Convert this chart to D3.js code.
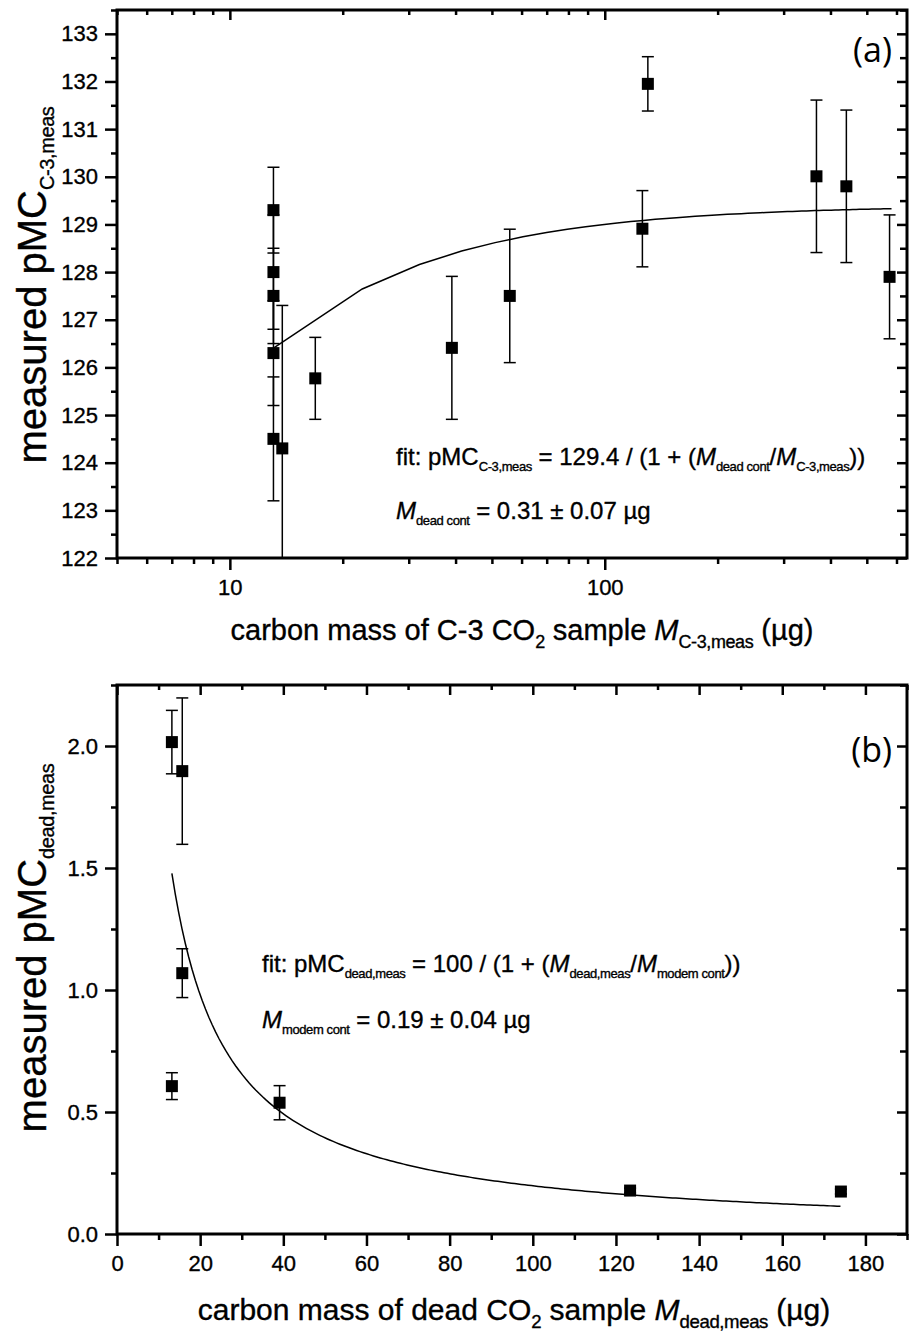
<!DOCTYPE html>
<html>
<head>
<meta charset="utf-8">
<script src="https://cdn.jsdelivr.net/npm/d3@7"></script>
<style>
  body { margin: 0; background: #fff; }
  svg text { font-family: "Liberation Sans", Arial, sans-serif; fill: #000; white-space: pre; stroke: #000; stroke-width: 0.35px; }
</style>
</head>
<body>
<div id="app"></div>
<script>
// ---- panel (a): C-3 CO2 samples ----
const massC3 = [13.07, 13.07, 13.07, 13.07, 13.07, 13.8, 16.9, 39.1, 55.8, 126, 130.3, 367, 441, 575];
const pmcC3  = [129.3, 128.0, 127.5, 126.3, 124.5, 124.3, 125.77, 126.41, 127.5, 128.91, 131.95, 130.01, 129.8, 127.9];
const errC3  = [0.9, 1.2, 1.0, 1.1, 1.3, 3.0, 0.86, 1.5, 1.4, 0.8, 0.57, 1.6, 1.6, 1.3];
// fit: pMC = 129.4 / (1 + Mdead/M)
const fitA = { pmc0: 129.4, mCont: 0.31, from: 13.07, to: 582, n: 61 };

// ---- panel (b): dead CO2 samples ----
const massDead = [13.2, 15.7, 15.7, 13.2, 39.1, 123.4, 174.1];
const pmcDead  = [2.016, 1.897, 1.069, 0.606, 0.538, 0.178, 0.174];
const errDead  = [0.13, 0.3, 0.1, 0.055, 0.07, 0.01, 0.01];
// fit: pMC = 100 / (1 + M/Mmodern)
const fitB = { pmc0: 100, mCont: 0.198, from: 13.2, to: 174, n: 200 };

// tick values
const ticksA_xMajor = [10, 100];
const ticksA_xMinor = [5, 6, 7, 8, 9, 20, 30, 40, 50, 60, 70, 80, 90, 200, 300, 400, 500, 600];
const ticksA_yMajor = d3.range(122, 133.01, 1);
const ticksA_yMinor = d3.range(122.5, 133.51, 1);
const ticksB_xMajor = d3.range(0, 181, 20);
const ticksB_xMinor = d3.range(10, 191, 20);
const ticksB_yMajor = [0, 0.5, 1.0, 1.5, 2.0];
const ticksB_yMinor = [0.25, 0.75, 1.25, 1.75, 2.25];

const W = 909, H = 1338;
let svg = d3.select("#app").append("svg")
    .attr("width", W)
    .attr("height", H);

// helper: text with sub/italic pieces
function richText(sel, parts, size, subSize, subShift) {
    let shift = 0;
    parts.forEach(([t, k]) => {
        let sub = k.includes("s");
        let target = sub ? subShift : 0;
        sel.append("tspan")
            .attr("dy", target - shift)
            .attr("font-size", sub ? subSize : size)
            .attr("font-style", k.includes("i") ? "italic" : null)
            .attr("letter-spacing", sub ? -0.4 : null)
            .text(t);
        shift = target;
    });
}

function styleAxis(g) {
    g.select(".domain").remove();
    g.selectAll(".tick line").attr("stroke", "#000").attr("stroke-width", 2.5);
    g.selectAll(".tick text").attr("font-size", 22).attr("fill", "#000")
        .attr("font-family", "Liberation Sans, Arial, sans-serif");
}

function panel(cfg) {
    let x = cfg.x, y = cfg.y;
    let [x0, x1] = x.range(), [y1, y0] = y.range();
    let g = svg.append("g");

    // clip for marks
    g.append("clipPath").attr("id", cfg.id + "clip")
        .append("rect").attr("x", x0).attr("y", y0).attr("width", x1 - x0).attr("height", y1 - y0);

    // axes: bottom / left outward with labels, top / right inward
    g.append("g").attr("transform", `translate(0,${y1})`)
        .call(d3.axisBottom(x).tickValues(cfg.xMajor).tickSize(12).tickPadding(9).tickFormat(cfg.xFmt))
        .call(styleAxis);
    g.append("g").attr("transform", `translate(0,${y1})`)
        .call(d3.axisBottom(x).tickValues(cfg.xMinor).tickSize(6).tickFormat(""))
        .call(styleAxis);
    g.append("g").attr("transform", `translate(${x0},0)`)
        .call(d3.axisLeft(y).tickValues(cfg.yMajor).tickSize(12).tickPadding(7).tickFormat(cfg.yFmt))
        .call(styleAxis);
    g.append("g").attr("transform", `translate(${x0},0)`)
        .call(d3.axisLeft(y).tickValues(cfg.yMinor).tickSize(6).tickFormat(""))
        .call(styleAxis);
    g.append("g").attr("transform", `translate(0,${y0})`)
        .call(d3.axisTop(x).tickValues(cfg.xMajor).tickSize(-10).tickFormat(""))
        .call(styleAxis);
    g.append("g").attr("transform", `translate(0,${y0})`)
        .call(d3.axisTop(x).tickValues(cfg.xMinor).tickSize(-5).tickFormat(""))
        .call(styleAxis);
    g.append("g").attr("transform", `translate(${x1},0)`)
        .call(d3.axisRight(y).tickValues(cfg.yMajor).tickSize(-10).tickFormat(""))
        .call(styleAxis);
    g.append("g").attr("transform", `translate(${x1},0)`)
        .call(d3.axisRight(y).tickValues(cfg.yMinor).tickSize(-7).tickFormat(""))
        .call(styleAxis);

    let marks = g.append("g").attr("clip-path", `url(#${cfg.id}clip)`);

    // fit curve
    let fit = cfg.fit;
    let fx = d3.range(fit.n).map(i => fit.from + (fit.to - fit.from) * i / (fit.n - 1));
    let line = d3.line()
        .x(d => x(d))
        .y(d => y(cfg.fitFn(d)));
    marks.append("path")
        .attr("d", line(fx))
        .attr("fill", "none")
        .attr("stroke", "#000")
        .attr("stroke-width", 1.5);

    // error bars
    let pts = cfg.mass.map((m, i) => ({ m: m, v: cfg.pmc[i], e: cfg.err[i] }));
    let eb = marks.selectAll(".eb").data(pts).enter().append("g")
        .attr("stroke", "#000").attr("stroke-width", 1.5);
    eb.append("line")
        .attr("x1", d => x(d.m)).attr("x2", d => x(d.m))
        .attr("y1", d => y(d.v - d.e)).attr("y2", d => y(d.v + d.e));
    eb.append("line")
        .attr("x1", d => x(d.m) - 6).attr("x2", d => x(d.m) + 6)
        .attr("y1", d => y(d.v + d.e)).attr("y2", d => y(d.v + d.e));
    eb.append("line")
        .attr("x1", d => x(d.m) - 6).attr("x2", d => x(d.m) + 6)
        .attr("y1", d => y(d.v - d.e)).attr("y2", d => y(d.v - d.e));

    // square markers
    marks.selectAll(".pt").data(pts).enter().append("rect")
        .attr("x", d => x(d.m) - 6)
        .attr("y", d => y(d.v) - 6)
        .attr("width", 12)
        .attr("height", 12)
        .attr("fill", "#000");

    // frame
    g.append("rect")
        .attr("x", x0).attr("y", y0)
        .attr("width", x1 - x0).attr("height", y1 - y0)
        .attr("fill", "none").attr("stroke", "#000").attr("stroke-width", 3);

    // panel letter
    g.append("text")
        .attr("x", x1 - 15).attr("y", cfg.letterY)
        .attr("text-anchor", "end")
        .attr("font-size", 34)
        .style("font-family", "'Open Sans', sans-serif")
        .style("stroke-width", 0)
        .text(cfg.letter);

    // x title
    let xt = g.append("text")
        .attr("x", cfg.xTitleX).attr("y", cfg.xTitleY)
        .attr("text-anchor", "middle");
    richText(xt, cfg.xTitle, cfg.xTitleSize, cfg.xTitleSize * 0.62, 8);

    // y title
    let yt = g.append("text")
        .attr("transform", `translate(${cfg.yTitleX},${cfg.yTitleY}) rotate(-90)`)
        .attr("text-anchor", "middle");
    richText(yt, cfg.yTitle, cfg.yTitleSize, cfg.yTitleSize * 0.5, 8);

    // fit annotations
    cfg.notes.forEach(n => {
        let t = g.append("text").attr("x", n.x).attr("y", n.y);
        richText(t, n.parts, 24, 13, 6);
    });
}

// panel (a)
panel({
    id: "a",
    x: d3.scaleLog().domain([5, 640]).range([117, 907]),
    y: d3.scaleLinear().domain([122, 133.5]).range([558, 10]),
    xMajor: ticksA_xMajor, xMinor: ticksA_xMinor,
    yMajor: ticksA_yMajor, yMinor: ticksA_yMinor,
    xFmt: d3.format("d"), yFmt: d3.format("d"),
    mass: massC3, pmc: pmcC3, err: errC3,
    fit: fitA,
    fitFn: m => fitA.pmc0 / (1 + fitA.mCont / m),
    letter: "(a)", letterY: 62,
    xTitleX: 522, xTitleY: 640, xTitleSize: 29,
    xTitle: [["carbon mass of C-3 CO", ""], ["2", "s"], [" sample ", ""], ["M", "i"], ["C-3,meas", "s"], [" (µg)", ""]],
    yTitleX: 46, yTitleY: 285, yTitleSize: 40,
    yTitle: [["measured pMC", ""], ["C-3,meas", "s"]],
    notes: [
        { x: 396, y: 465, parts: [["fit: pMC", ""], ["C-3,meas", "s"], [" = 129.4 / (1 + (", ""], ["M", "i"], ["dead cont", "s"], ["/", ""], ["M", "i"], ["C-3,meas", "s"], ["))", ""]] },
        { x: 396, y: 519, parts: [["M", "i"], ["dead cont", "s"], [" = 0.31 ± 0.07 µg", ""]] }
    ]
});

// panel (b)
panel({
    id: "b",
    x: d3.scaleLinear().domain([0, 190]).range([117, 907]),
    y: d3.scaleLinear().domain([0, 2.25]).range([1234, 685]),
    xMajor: ticksB_xMajor, xMinor: ticksB_xMinor,
    yMajor: ticksB_yMajor, yMinor: ticksB_yMinor,
    xFmt: d3.format("d"), yFmt: d3.format(".1f"),
    mass: massDead, pmc: pmcDead, err: errDead,
    fit: fitB,
    fitFn: m => fitB.pmc0 / (1 + m / fitB.mCont),
    letter: "(b)", letterY: 762,
    xTitleX: 514, xTitleY: 1320, xTitleSize: 30,
    xTitle: [["carbon mass of dead CO", ""], ["2", "s"], [" sample ", ""], ["M", "i"], ["dead,meas", "s"], [" (µg)", ""]],
    yTitleX: 46, yTitleY: 948, yTitleSize: 40,
    yTitle: [["measured pMC", ""], ["dead,meas", "s"]],
    notes: [
        { x: 262, y: 972, parts: [["fit: pMC", ""], ["dead,meas", "s"], [" = 100 / (1 + (", ""], ["M", "i"], ["dead,meas", "s"], ["/", ""], ["M", "i"], ["modem cont", "s"], ["))", ""]] },
        { x: 262, y: 1028, parts: [["M", "i"], ["modem cont", "s"], [" = 0.19 ± 0.04 µg", ""]] }
    ]
});
</script>
</body>
</html>
